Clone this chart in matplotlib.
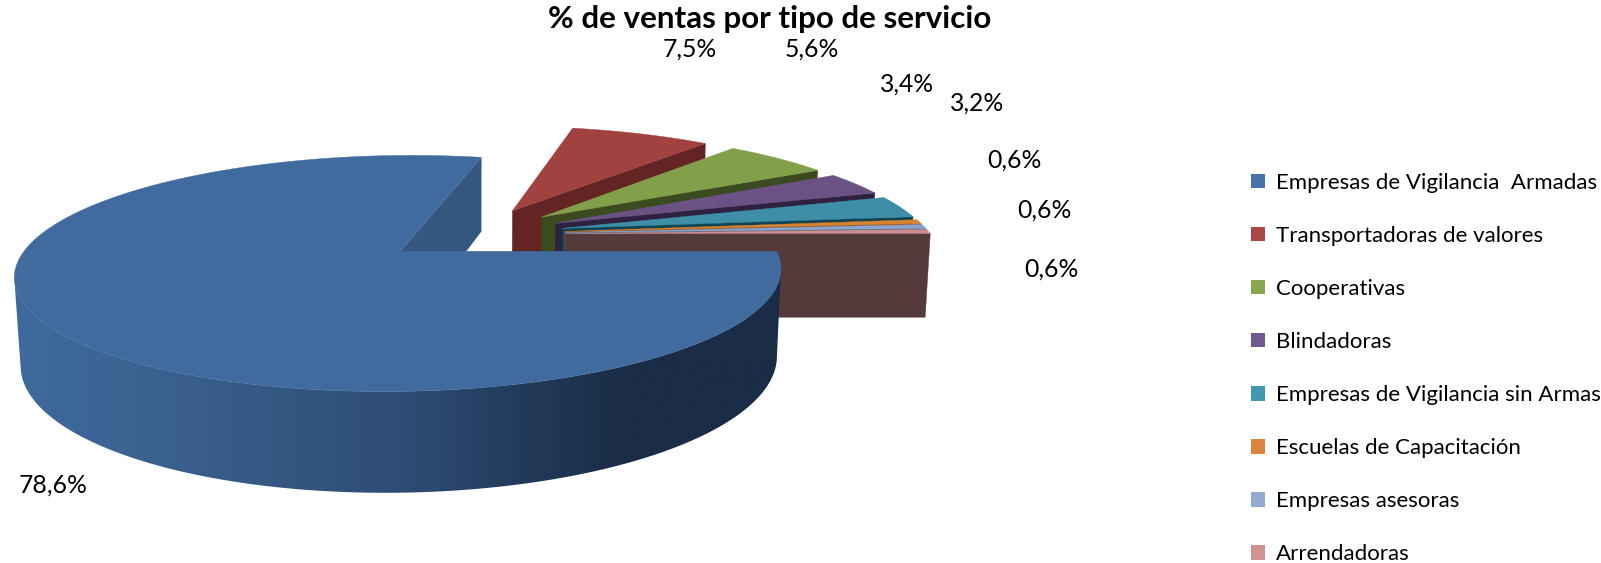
"""% de ventas por tipo de servicio: torta 3D con porciones separadas."""
import numpy as np, matplotlib
matplotlib.use("Agg")
import matplotlib.pyplot as plt
from matplotlib.colors import LinearSegmentedColormap
from matplotlib.patches import Patch, Polygon

plt.rcParams["font.family"] = ["Lato", "DejaVu Sans"]

titulo = "% de ventas por tipo de servicio"
categorias = ["Empresas de Vigilancia  Armadas", "Transportadoras de valores", "Cooperativas", "Blindadoras",
              "Empresas de Vigilancia sin Armas", "Escuelas de Capacitación", "Empresas asesoras", "Arrendadoras"]
valores = [78.6, 7.5, 5.6, 3.4, 3.2, 0.6, 0.6, 0.6]
col_leyenda = ["#4573A7", "#AA4644", "#89A54E", "#71588F", "#4298AF", "#DB843D", "#93A9CF", "#D19392"]
col_tapa = ["#416A9E", "#A04340", "#829F49", "#6B5285", "#3D8EA6", "#D9822F", "#8CA4CC", "#CB8E8E"]
col_pared = ["#34567F", "#632523", "#3B4A1F", "#2F2141", "#0F4452", "#7A4A1B", "#4A5A78", "#543A3B"]
pos_etiquetas = [(52, 475), (676, 48), (795, 48), (888, 82), (957, 101), (994, 157), (1023, 206), (1030, 263)]

# perspectiva: plano de arriba y de abajo de la torta (coords. de la imagen reducida 1568x551)
CX, EXPL = 464, 0.25
ARRIBA = dict(cy=229, a=358, b=105.2, k=0.1825)
ABAJO = dict(cy=311, a=354, b=118, k=0.176)


def proy(u, v, p):
    w = 1 + p["k"] * v
    return CX + p["a"] * u / w, p["cy"] - p["b"] * v / w


def borde(ini, fin, off, p, n=200):
    t = np.radians(np.linspace(ini, fin, n))
    return np.column_stack(proy(off[0] + np.cos(t), off[1] + np.sin(t), p))


fig = plt.figure(figsize=(16.01, 5.63), dpi=100)
ax = fig.add_axes([0, 0, 1, 1])
ax.axis("off")

# ángulos: se avanza en sentido horario desde 0 grados
frac = np.array(valores) / sum(valores)
fin = -360 * np.cumsum(frac)
ini = np.r_[0, fin[:-1]]
medio = np.radians((ini + fin) / 2)
offs = np.column_stack([EXPL * np.cos(medio), EXPL * np.sin(medio)])

# primero las porciones chicas, de atrás hacia adelante
for i in range(1, len(valores)):
    off = offs[i]
    centro = np.array(proy(off[0], off[1], ARRIBA))
    centro2 = np.array(proy(off[0], off[1], ABAJO))
    t = np.radians(fin[i])
    esq = np.array(proy(off[0] + np.cos(t), off[1] + np.sin(t), ARRIBA))
    esq2 = np.array(proy(off[0] + np.cos(t), off[1] + np.sin(t), ABAJO))
    ax.fill(*np.array([centro, esq, esq2, centro2]).T, color=col_pared[i], lw=0.3, zorder=2 + i)
    ax.fill(*np.vstack([centro, borde(ini[i], fin[i], off, ARRIBA)]).T, color=col_tapa[i], lw=0.3, zorder=2 + i)

# porción grande: pared interna, pared exterior con degradado y tapa
off = offs[0]
centro = np.array(proy(off[0], off[1], ARRIBA))
centro2 = np.array(proy(off[0], off[1], ABAJO))
t = np.radians(fin[0])
esq = np.array(proy(off[0] + np.cos(t), off[1] + np.sin(t), ARRIBA))
esq2 = np.array(proy(off[0] + np.cos(t), off[1] + np.sin(t), ABAJO))
ax.fill(*np.array([centro, esq, esq2, centro2]).T, color=col_pared[0], lw=0, zorder=20)

cmap = LinearSegmentedColormap.from_list("lado", [(0, "#3F6A9D"), (0.16, "#3B6392"), (0.5, "#2E4D75"),
                                                  (0.8, "#1A2C46"), (1, "#1A2C46")])
sup = borde(0, -200, off, ARRIBA, 400)
inf = borde(0, -200, off, ABAJO, 400)
# la pared va del punto más a la derecha al más a la izquierda de la tapa
d, iz = sup[:, 0].argmax(), sup[:, 0].argmin()
lado = Polygon(np.vstack([sup[d:iz + 1], inf[d:iz + 1][::-1]]), closed=True, transform=ax.transData, fc="none", ec="none")
ax.add_patch(lado)
grad = ax.imshow(np.linspace(0, 1, 400)[None, :], cmap=cmap, extent=(15, 765, 500, 200), aspect="auto", zorder=21)
grad.set_clip_path(lado)
ax.fill(*np.vstack([centro, borde(0, fin[0], off, ARRIBA, 400)]).T, color=col_tapa[0], lw=0.3, zorder=22)
ax.set_xlim(0, 1568); ax.set_ylim(551, 0)

for v, (x, y) in zip(valores, pos_etiquetas):
    ax.text(x, y, f"{v:.1f}".replace(".", ",") + "%", fontsize=17.8, ha="center", va="center", color="black", zorder=30)
ax.text(754, 19, titulo, fontsize=22.6, fontweight="bold", ha="center", va="center", zorder=30)

handles = [Patch(facecolor=c, edgecolor="none") for c in col_leyenda]
ax.legend(handles, categorias, loc="upper left", bbox_to_anchor=(1225 / 1568, 1 - 169 / 551), frameon=False,
          fontsize=16, handlelength=0.63, handleheight=0.63, handletextpad=0.5, labelspacing=1.49,
          borderpad=0, borderaxespad=0)
fig.savefig("out.png", dpi=100)
